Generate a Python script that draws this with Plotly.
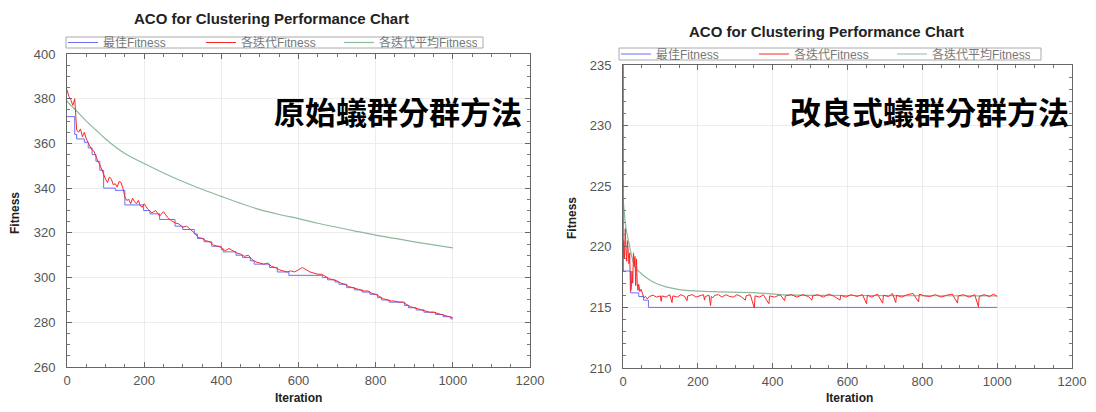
import plotly.graph_objects as go

# ---------------- Left chart: original ant-colony clustering ----------------
left_best_iter = [0, 20, 25, 45, 55, 65, 75, 85, 95, 125, 150, 198, 215, 240, 280, 300, 330, 338,
                  355, 375, 400, 405, 438, 455, 475, 485, 525, 545, 575, 662, 675, 695, 705, 725,
                  745, 765, 785, 805, 815, 835, 875, 885, 905, 925, 955, 975, 995, 1000]
left_best_fit = [372, 364, 362, 360.5, 358, 355, 352, 348, 340, 339, 332.5, 330, 328.5, 326, 323,
                 321.5, 319.5, 317.5, 316, 314, 312.5, 311.5, 310, 309, 307.5, 306, 304.5, 302.5,
                 301, 300, 299, 298, 297, 295.5, 294.5, 293.5, 292.5, 291, 290, 289, 287.5, 286.5,
                 285.5, 284.5, 283.5, 282.5, 281.5, 281.5]

left_iter_iter = [0, 5, 10, 15, 20, 25, 30, 35, 40, 45, 50, 55, 60, 65, 70, 75, 80, 85, 90, 95,
                  100, 105, 110, 115, 120, 125, 130, 135, 140, 145, 150, 155, 160, 165, 170, 175,
                  180, 185, 190, 195, 200, 210, 220, 230, 240, 250, 260, 270, 280, 290, 300, 310,
                  320, 330, 340, 350, 360, 370, 380, 390, 400, 410, 420, 430, 440, 450, 460, 470,
                  480, 490, 500, 510, 520, 530, 540, 550, 560, 570, 580, 590, 600, 610, 620, 630,
                  640, 650, 660, 670, 680, 690, 700, 710, 720, 730, 740, 750, 760, 770, 780, 790,
                  800, 810, 820, 830, 840, 850, 860, 870, 880, 890, 900, 910, 920, 930, 940, 950,
                  960, 970, 980, 990, 1000]
left_iter_fit = [384, 381, 379.5, 377, 380, 366, 365, 366.5, 363, 365, 362, 360.5, 359, 357, 356.5,
                 354, 352, 350.5, 348, 346, 344, 342.5, 345, 344, 341.5, 342, 340.5, 343, 342.5,
                 340, 336, 334.5, 335, 333, 335.5, 334, 333, 334.5, 332, 331.5, 333, 330.5, 329,
                 330, 327.5, 329.5, 327, 325.5, 324.5, 324, 322.5, 323, 321.5, 320, 318, 317.5,
                 316.5, 316, 314.5, 314, 313.5, 312, 313, 312, 311, 310.5, 309.5, 310, 308, 307,
                 306.5, 306, 306.5, 305, 304.5, 303.5, 303, 302.5, 303, 302.5, 303.5, 304.5,
                 303.5, 302.5, 302, 301.5, 301.5, 300.5, 299.5, 299, 298.5, 297.5, 297, 296,
                 295.5, 295, 294.5, 294, 294, 293, 292.5, 291.5, 290.5, 290, 289.5, 289.5, 289,
                 289, 288, 287, 286.5, 286, 285.5, 285, 284.5, 284.5, 284, 283.5, 283, 282.5, 282]

left_avg_iter = [0, 10, 25, 50, 75, 100, 150, 200, 250, 300, 350, 400, 450, 500, 550, 600, 650,
                 700, 750, 800, 850, 900, 950, 1000]
left_avg_fit = [379, 377, 374.5, 370, 366, 362, 355.5, 351, 346.8, 343, 339.5, 336.3, 333.2,
                330.4, 328.2, 326.4, 324.3, 322.5, 320.7, 319, 317.5, 316, 314.6, 313.3]

# ---------------- Right chart: improved ant-colony clustering ----------------
right_best_iter = [0, 1, 20, 42, 55, 68, 1000]
right_best_fit = [236, 218, 216.2, 215.9, 215.6, 215.0, 215.0]

right_iter_iter = [0, 2, 4, 6, 8, 10, 12, 14, 16, 18, 20, 22, 24, 26, 28, 30, 32, 34, 36, 38, 40,
                   42, 45, 48, 52, 56, 60, 65, 70, 80, 90, 100, 102, 104, 115, 125, 131, 133, 145,
                   155, 165, 171, 173, 185, 195, 205, 215, 218, 220, 230, 234, 236, 240, 245, 255,
                   265, 275, 285, 295, 305, 315, 327, 329, 340, 351, 353, 365, 375, 390, 392, 405,
                   420, 432, 434, 450, 465, 480, 495, 505, 507, 520, 535, 550, 565, 580, 582, 595,
                   610, 625, 640, 651, 653, 665, 680, 694, 696, 710, 720, 729, 731, 745, 760, 775,
                   790, 792, 805, 820, 835, 850, 865, 880, 894, 896, 910, 925, 940, 950, 952, 965,
                   980, 990, 1000]
right_iter_fit = [219.0, 220.5, 219.0, 221.5, 219.8, 218.8, 220.5, 219.2, 218.6, 219.5, 216.3,
                  216.5, 218.0, 217.0, 219.5, 218.4, 219.2, 216.8, 219.0, 217.0, 216.4, 216.9,
                  216.3, 216.5, 216.1, 215.8, 215.9, 215.7, 215.9, 216.0, 215.85, 215.95, 215.5,
                  215.95, 215.85, 216.05, 215.4, 215.95, 215.85, 216.05, 215.9, 215.55, 215.95,
                  216.05, 215.85, 215.95, 216.05, 215.6, 215.9, 216.0, 215.15, 215.9, 215.8,
                  216.0, 216.05, 215.85, 216.05, 215.9, 215.85, 216.05, 215.9, 215.6, 215.95,
                  216.05, 214.95, 215.95, 215.85, 216.05, 215.3, 215.95, 215.85, 216.05, 215.55,
                  215.95, 216.05, 215.85, 216.05, 215.9, 215.6, 215.95, 216.05, 215.85, 216.1,
                  215.9, 215.6, 216.0, 215.85, 216.05, 215.9, 216.05, 215.3, 216.0, 215.85,
                  216.1, 215.35, 216.0, 215.9, 216.15, 215.4, 216.0, 215.85, 216.05, 216.15,
                  215.45, 216.1, 215.95, 215.9, 216.05, 215.85, 216.0, 216.1, 215.35, 215.95,
                  216.05, 215.85, 216.05, 215.05, 215.9, 216.05, 215.9, 216.1, 215.9]

right_avg_iter = [0, 3, 6, 10, 16, 25, 34, 45, 60, 80, 115, 170, 240, 360, 420, 600, 800, 1000]
right_avg_fit = [224.0, 223.0, 222.0, 221.2, 220.3, 219.0, 218.2, 217.9, 217.5, 217.1, 216.7,
                 216.4, 216.3, 216.2, 216.05, 215.98, 215.96, 215.95]

series_names = ["最佳Fitness", "各迭代Fitness", "各迭代平均Fitness"]
chart_title = "ACO for Clustering Performance Chart"
left_label = "原始蟻群分群方法"
right_label = "改良式蟻群分群方法"
x_title = "Iteration"
y_title = "Fitness"

BLUE = "rgb(110,110,245)"
RED = "rgb(250,40,40)"
GREEN = "rgb(140,185,155)"

# The page body has an 8px margin on every side, so the figure is laid out 16px smaller
# (no scrollbars) and every reference pixel position is shifted by -8 px.
OFF = 8
W, H = 1096 - 2 * OFF, 412 - 2 * OFF


def px(x):
    return (x - OFF) / W


def py(y):
    return 1 - (y - OFF) / H


fig = go.Figure()


def add_set(xa, ya, leg, best_i, best_f, it_i, it_f, avg_i, avg_f):
    fig.add_trace(go.Scatter(x=avg_i, y=avg_f, mode="lines", name=series_names[2],
                             line=dict(color=GREEN, width=1.2, shape="spline"),
                             xaxis=xa, yaxis=ya, legend=leg, legendrank=3))
    fig.add_trace(go.Scatter(x=best_i, y=best_f, mode="lines", name=series_names[0],
                             line=dict(color=BLUE, width=1, shape="hv"),
                             xaxis=xa, yaxis=ya, legend=leg, legendrank=1))
    fig.add_trace(go.Scatter(x=it_i, y=it_f, mode="lines", name=series_names[1],
                             line=dict(color=RED, width=1),
                             xaxis=xa, yaxis=ya, legend=leg, legendrank=2))


add_set("x", "y", "legend", left_best_iter, left_best_fit, left_iter_iter, left_iter_fit,
        left_avg_iter, left_avg_fit)
add_set("x2", "y2", "legend2", right_best_iter, right_best_fit, right_iter_iter, right_iter_fit,
        right_avg_iter, right_avg_fit)

TICKFONT = dict(family="Liberation Sans, Arial, sans-serif", size=13, color="#555")


def xaxis(x0, x1, anchor):
    return dict(domain=[px(x0), px(x1)], anchor=anchor, range=[0, 1200], dtick=200, tick0=0,
                showline=True, linecolor="#666", linewidth=1, mirror="allticks",
                ticks="inside", ticklen=5, tickcolor="#666",
                showgrid=True, gridcolor="#ececec", gridwidth=1, zeroline=False,
                tickfont=TICKFONT, ticklabelstandoff=1, ticklabeloverflow="allow",
                minor=dict(dtick=50, ticks="inside", ticklen=3, tickcolor="#777", showgrid=False))


def yaxis(ytop, ybot, anchor, rng, dt, mdt):
    return dict(domain=[py(ybot), py(ytop)], anchor=anchor, range=rng, dtick=dt, tick0=rng[0],
                showline=True, linecolor="#666", linewidth=1, mirror="allticks",
                ticks="inside", ticklen=5, tickcolor="#666",
                showgrid=True, gridcolor="#ececec", gridwidth=1, zeroline=False,
                tickfont=TICKFONT, ticklabelstandoff=8, ticklabeloverflow="allow",
                minor=dict(dtick=mdt, ticks="inside", ticklen=3, tickcolor="#777", showgrid=False))


LEGFONT = dict(family="Liberation Sans, Noto Sans CJK TC, sans-serif", size=12, color="#777")


def legend(x, ycen):
    return dict(x=px(x), y=py(ycen), xanchor="left", yanchor="middle", orientation="h",
                borderwidth=0, bgcolor="rgba(255,255,255,0)",
                font=LEGFONT, entrywidth=93, entrywidthmode="pixels", itemwidth=30,
                tracegroupgap=0, itemclick=False, itemdoubleclick=False)


# legend frames (decoration): left 66..483 x 37..48, right 619..1041 x 48..60
legend_frames = [(66, 37, 483, 48), (619, 48, 1041, 60)]
shapes = [dict(type="rect", xref="paper", yref="paper", x0=px(a), x1=px(c),
               y0=py(d), y1=py(b), line=dict(color="#aaa", width=1),
               fillcolor="rgba(0,0,0,0)", layer="below")
          for a, b, c, d in legend_frames]

fig.update_layout(
    width=W, height=H, margin=dict(l=0, r=0, t=0, b=0, autoexpand=False),
    paper_bgcolor="white", plot_bgcolor="white",
    font=dict(family="Liberation Sans, Arial, sans-serif"),
    xaxis=xaxis(67, 530, "y"),
    yaxis=yaxis(54, 367, "x", [260, 400], 20, 5),
    xaxis2=xaxis(623, 1072, "y2"),
    yaxis2=yaxis(65, 368, "x2", [210, 235], 5, 1),
    legend=legend(63, 42.5),
    legend2=legend(616, 54),
    showlegend=True,
    shapes=shapes,
)

ann = []
TITLEFONT = dict(family="Liberation Sans, Arial, sans-serif", size=15, color="#222")
AXTFONT = dict(family="Liberation Sans, Arial, sans-serif", size=12, color="#222")
BIGFONT = dict(family="Noto Sans CJK TC, sans-serif", size=31, color="black")
for cx, cy in [(271, 18), (826, 32)]:
    ann.append(dict(text="<b>%s</b>" % chart_title, x=px(cx), y=py(cy), xref="paper",
                    yref="paper", showarrow=False, xanchor="center", yanchor="middle",
                    font=TITLEFONT))
for cx, cy in [(298, 398), (849, 398)]:
    ann.append(dict(text="<b>%s</b>" % x_title, x=px(cx), y=py(cy), xref="paper",
                    yref="paper", showarrow=False, xanchor="center", yanchor="middle",
                    font=AXTFONT))
for cx, cy in [(15, 213), (572, 218)]:
    ann.append(dict(text="<b>%s</b>" % y_title, x=px(cx), y=py(cy), xref="paper",
                    yref="paper", showarrow=False, xanchor="center", yanchor="middle",
                    textangle=-90, font=AXTFONT))
ann.append(dict(text="<b>%s</b>" % left_label, x=px(398), y=py(110), xref="paper",
                yref="paper", showarrow=False, xanchor="center", yanchor="middle", font=BIGFONT))
ann.append(dict(text="<b>%s</b>" % right_label, x=px(929), y=py(110), xref="paper",
                yref="paper", showarrow=False, xanchor="center", yanchor="middle", font=BIGFONT))
fig.update_layout(annotations=ann)

fig.write_html("out.html")
